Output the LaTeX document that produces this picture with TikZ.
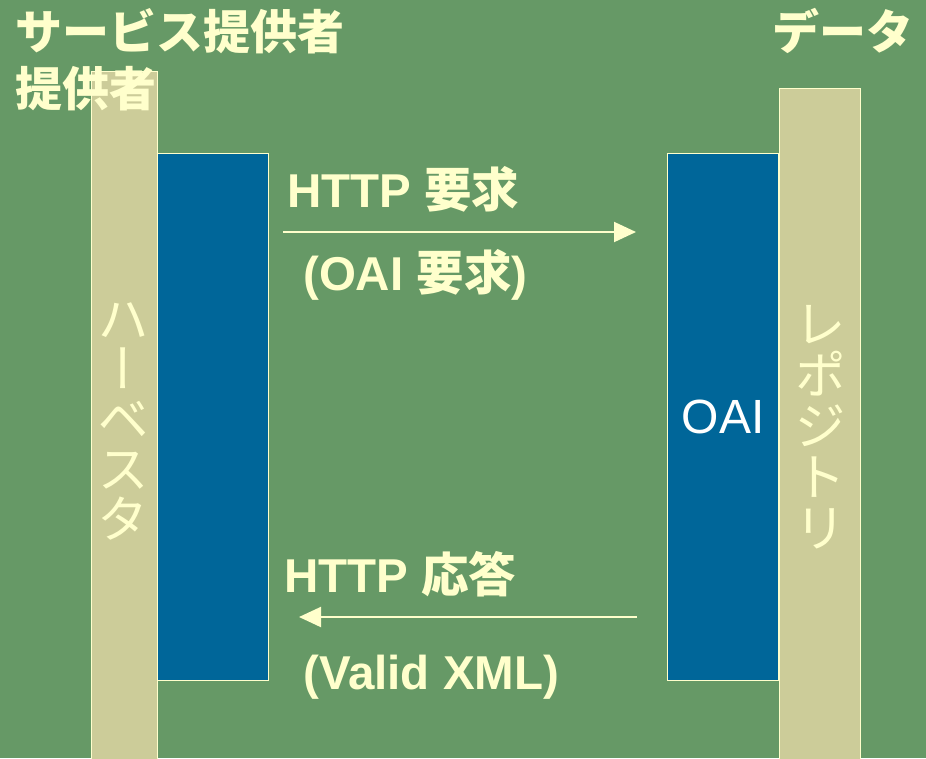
\documentclass[tikz,border=0pt]{standalone}
\usepackage{fontspec}
\setmainfont{Liberation Sans}
\newfontfamily\jpfont{Noto Sans CJK JP}
\newfontfamily\jpvert[RawFeature=+vert]{Noto Sans CJK JP}
\usepackage{tikz}
\usetikzlibrary{arrows.meta}
\usetikzlibrary{positioning}
\usepackage{xcolor}
\definecolor{bggreen}{HTML}{669966}
\definecolor{bartan}{HTML}{CCCC99}
\definecolor{oaiblue}{HTML}{006699}
\definecolor{cream}{HTML}{FFFFCC}
\newcommand{\jp}[1]{{\jpfont #1}}

\begin{document}
\begin{tikzpicture}[x=1pt, y=-1pt,
  bar/.style={rectangle, fill=bartan, draw=cream, line width=1pt, inner sep=0},
  box/.style={rectangle, fill=oaiblue, draw=cream, line width=1pt, inner sep=0,
    minimum width=111pt, minimum height=527pt},
  title/.style={anchor=base west, inner sep=0, text=cream,
    font=\jpfont\bfseries\fontsize{47pt}{55pt}\selectfont},
  lbl/.style={anchor=base west, inner sep=0, text=cream,
    font=\bfseries\fontsize{47.5pt}{50pt}\selectfont},
  vlbl/.style={align=center, inner sep=0, text=cream},
  flow/.style={draw=cream, line width=2pt, -{Triangle[length=22pt,width=20pt]}}]
\fill[bggreen] (0,0) rectangle (926,758);
\useasboundingbox (0,0) rectangle (926,758);
% side bars
\node[bar, minimum width=66pt, minimum height=691pt] (harvbar) at (124,416.5) {};
\node[bar, minimum width=81pt, minimum height=674pt] (repobar) at (819.5,425) {};
% boxes
\node[box] (harvbox) at (212.5,416.5) {};
\node[box] (repobox) at (723,417) {};
\node[text=white, inner sep=0, font=\fontsize{48pt}{48pt}\selectfont] (oailbl) at (repobox.center) {OAI};
% vertical names
\node[vlbl, font=\jpvert\fontsize{52pt}{50pt}\selectfont] (harvlbl) at (123,421) {ハ\\ー\\ベ\\ス\\タ};
\node[vlbl, font=\jpvert\fontsize{52pt}{51pt}\selectfont] (repolbl) at (820,427) {レ\\ポ\\ジ\\ト\\リ};
% titles
\node[title] (provtitle) at (15,49) {サービス提供者};
\node[title] (provtitle2) at (15,106) {提供者};
\node[title] (datatitle) at (772,49) {データ};
% request / response
\coordinate (reqfrom) at (283,232);
\coordinate (reqto) at (636,232);
\coordinate (resfrom) at (637,617);
\coordinate (resto) at (299,617);
\draw[flow] (reqfrom) -- (reqto);
\draw[flow] (resfrom) -- (resto);
\node[lbl] (reqlbl) at (287,207) {HTTP \jp{要求}};
\node[lbl] (reqsub) at (303,290) {(OAI \jp{要求})};
\node[lbl] (reslbl) at (284,592) {HTTP \jp{応答}};
\node[lbl] (ressub) at (303,689) {(Valid XML)};
\end{tikzpicture}
\end{document}
